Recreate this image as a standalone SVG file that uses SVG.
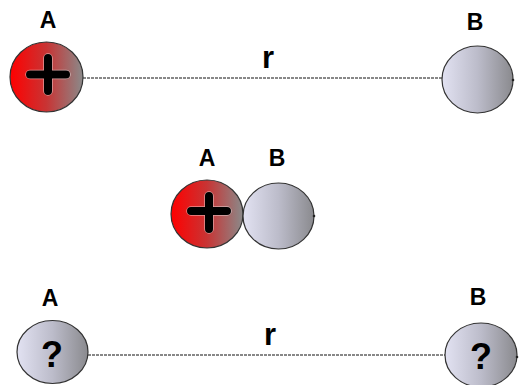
<svg xmlns="http://www.w3.org/2000/svg" width="527" height="385" viewBox="0 0 527 385">
<defs>
<linearGradient id="red" x1="0" y1="0" x2="1" y2="0">
<stop offset="0" stop-color="#ff0000"/>
<stop offset="0.5" stop-color="#c83434"/>
<stop offset="1" stop-color="#8a8a8a"/>
</linearGradient>
<linearGradient id="gray" x1="0" y1="0" x2="1" y2="0">
<stop offset="0" stop-color="#e2e2f2"/>
<stop offset="0.5" stop-color="#bcbcca"/>
<stop offset="1" stop-color="#8a8a8e"/>
</linearGradient>
<style>
.ball{stroke:#333;stroke-width:1.2}
.lbl{font-family:"Liberation Sans",Arial,sans-serif;font-weight:bold;font-size:23px;fill:#000;text-anchor:middle}
.r{font-family:"Liberation Sans",Arial,sans-serif;font-weight:bold;font-size:31px;fill:#000;text-anchor:middle}
.q{font-family:"Liberation Sans",Arial,sans-serif;font-weight:bold;font-size:36px;fill:#000;text-anchor:middle}
.plus{stroke:#000;stroke-width:8;stroke-linecap:round;fill:none}
.halo{stroke:#fff;stroke-width:9.5;stroke-linecap:round;fill:none;opacity:0.5}
.conn{stroke:#111;stroke-width:1;stroke-dasharray:3 1;fill:none}
.dot{fill:#222}
</style>
</defs>
<g id="connectors">
<line class="conn" x1="83" y1="78" x2="442" y2="78"/>
<line class="conn" x1="88" y1="355" x2="445" y2="355"/>
<text class="r" x="268" y="68">r</text>
<text class="r" x="270" y="345">r</text>
</g>
<g id="top-A">
<text class="lbl" x="48" y="28">A</text>
<ellipse class="ball" cx="46.5" cy="77" rx="36.5" ry="35" fill="url(#red)"/>
<path class="halo" d="M30 74.5H66M48 58V91"/>
<path class="plus" d="M30 74.5H66M48 58V91"/>
</g>
<g id="top-B">
<text class="lbl" x="475" y="30">B</text>
<ellipse class="ball" cx="477.5" cy="79.5" rx="35.5" ry="33.5" fill="url(#gray)"/>
<circle class="dot" cx="513" cy="80" r="1.3"/>
</g>
<g id="mid-A">
<text class="lbl" x="207" y="166">A</text>
<ellipse class="ball" cx="207" cy="214" rx="36" ry="34" fill="url(#red)"/>
<path class="halo" d="M191 211H227M209 196V229"/>
<path class="plus" d="M191 211H227M209 196V229"/>
</g>
<g id="mid-B">
<text class="lbl" x="277" y="166">B</text>
<ellipse class="ball" cx="278.5" cy="216" rx="35.5" ry="33" fill="url(#gray)"/>
<circle class="dot" cx="314" cy="216" r="1.3"/>
</g>
<g id="bot-A">
<text class="lbl" x="50" y="306">A</text>
<ellipse class="ball" cx="52.5" cy="352" rx="35.5" ry="31.5" fill="url(#gray)"/>
<text class="q" x="52" y="367">?</text>
</g>
<g id="bot-B">
<text class="lbl" x="478" y="305">B</text>
<ellipse class="ball" cx="481" cy="355" rx="36" ry="32" fill="url(#gray)"/>
<text class="q" x="481" y="369">?</text>
<circle class="dot" cx="517" cy="357" r="1.3"/>
</g>
</svg>
